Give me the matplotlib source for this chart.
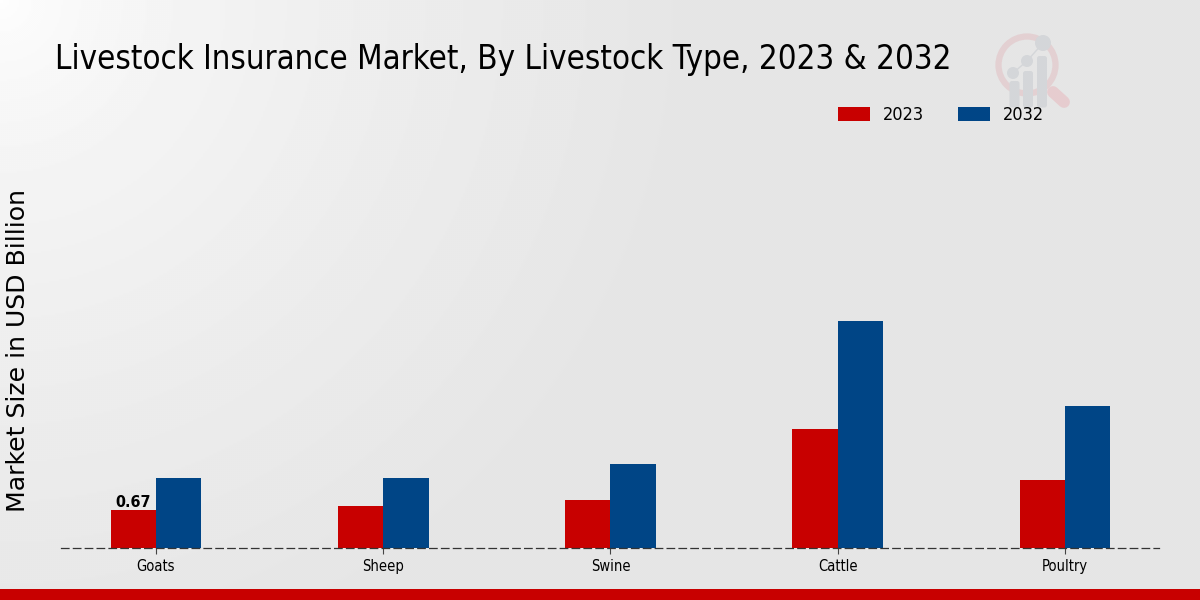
import numpy as np
import matplotlib
matplotlib.use("Agg")
import matplotlib.pyplot as plt
from matplotlib.patches import Circle, FancyBboxPatch

# Values (USD Billion)
categories = ["Goats", "Sheep", "Swine", "Cattle", "Poultry"]
values_2023 = [0.67, 0.75, 0.85, 2.12, 1.20]
values_2032 = [1.25, 1.25, 1.50, 4.05, 2.53]

RED = "#c80000"
BLUE = "#004586"
W, H = 1200, 600

fig = plt.figure(figsize=(12, 6), dpi=100)

# Background gradient, light in the top left corner
bg = fig.add_axes([0, 0, 1, 1], zorder=0)
yy, xx = np.mgrid[0:1:300j, 0:1:600j]
dist = np.clip(np.sqrt((xx * 1200) ** 2 + (yy * 600) ** 2) / 700, 0, 1)
bg.imshow(1 - 0.1 * dist ** 0.6, cmap="gray", vmin=0, vmax=1, aspect="auto",
          extent=[0, W, H, 0], interpolation="bilinear")
bg.set_xlim(0, W)
bg.set_ylim(H, 0)
bg.axis("off")

# Bottom band
bg.fill_between([0, W], 588.5, 600, color=RED, lw=0)

# Watermark logo
bg.plot([1053, 1064], [92, 102], color="#e6cccf", lw=8.5, solid_capstyle="round")
bg.add_patch(Circle((1027, 65), 28.5, fill=False, ec="#e3d0d2", lw=4.5))
bg.plot([1013, 1027, 1043], [73, 61, 43], color="#d4d6d9", lw=1)
for cx, cy, r in [(1013, 73, 6), (1027, 61, 6), (1043, 43, 8)]:
    bg.add_patch(Circle((cx, cy), r, fc="#d4d6d9", ec="none"))
for cx, top in [(1014.5, 81), (1028, 71), (1042, 56)]:
    bg.add_patch(FancyBboxPatch((cx - 2.5, top + 2.5), 5, 105 - top - 2.5,
                                boxstyle="round,pad=2.5", fc="#d4d6d9", ec="none"))

# Main chart, position in figure pixels
left, right, bottom, top = 61, 1159, 547.5, 110
ax = fig.add_axes([left / W, 1 - bottom / H, (right - left) / W, (bottom - top) / H], zorder=1)
ax.patch.set_alpha(0)

x = np.arange(len(categories))
bar_w = 0.2
ax.bar(x - bar_w / 2, values_2023, bar_w, color=RED, linewidth=0, label="2023")
ax.bar(x + bar_w / 2, values_2032, bar_w, color=BLUE, linewidth=0, label="2032")

ax.set_xlim(-0.418, 4.4136)
ax.set_ylim(0, (bottom - top) / 56)
ax.set_xticks(x)
ax.set_xticklabels(categories, fontsize=10.5, stretch="condensed")
ax.set_yticks([])
ax.tick_params(axis="x", length=4, width=0.8, color="#444444", pad=4)

for side in ["top", "left", "right"]:
    ax.spines[side].set_visible(False)
ax.spines["bottom"].set_linestyle((0, (6, 3.5)))
ax.spines["bottom"].set_color("#333333")
ax.spines["bottom"].set_linewidth(0.9)

ax.text(x[0] - bar_w / 2, values_2023[0], "0.67", ha="center", va="bottom",
        fontsize=11.5, fontweight="bold", stretch="condensed", color="black")

fig.text(55 / W, 1 - 59 / H, "Livestock Insurance Market, By Livestock Type, 2023 & 2032",
         fontsize=23.7, stretch="condensed", ha="left", va="center", color="black", zorder=3)
fig.text(18 / W, 1 - 351 / H, "Market Size in USD Billion", fontsize=18.1, rotation=90,
         ha="center", va="center", color="black", zorder=3)

ax.legend(loc="upper left", bbox_to_anchor=(838 / W, 1 - 106.5 / H), bbox_transform=fig.transFigure,
          ncol=2, frameon=False, handlelength=1.77, handleheight=0.85,
          columnspacing=1.88, handletextpad=0.72, borderpad=0, borderaxespad=0,
          prop={"size": 13, "stretch": "condensed"})

fig.savefig("out.png", dpi=100)
